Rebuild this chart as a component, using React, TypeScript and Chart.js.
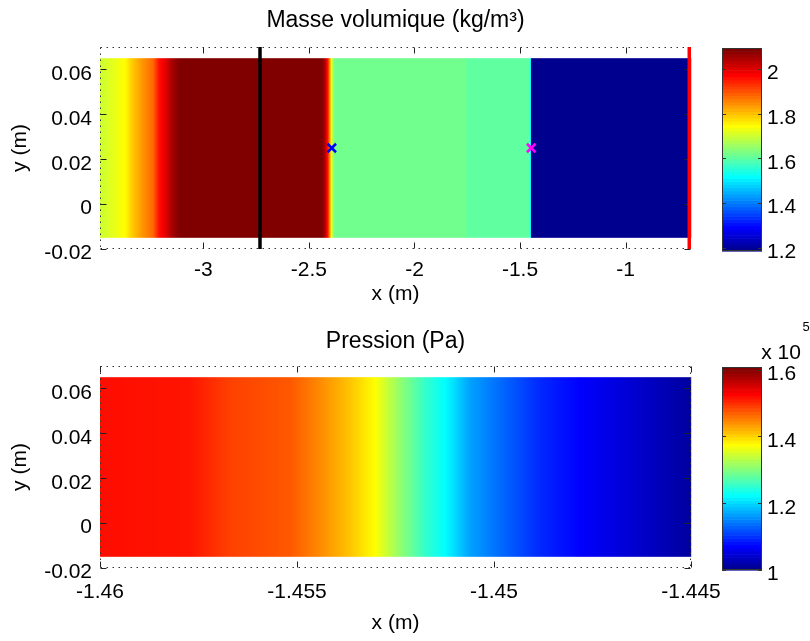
import React, { useEffect, useRef } from 'react';
import { Chart, registerables } from 'chart.js';

Chart.register(...registerables);

// ---------------- data ----------------
// density profile along x (kg/m³)
const densityX = [-3.49, -3.45, -3.4, -3.37, -3.34, -3.29, -3.24, -3.21, -3.18, -3.15, -3.11, -2.44, -2.425, -2.41, -2.4, -2.39, -2.38, -2.37, -1.76, -1.75, -1.452, -1.449, -1.446, -0.69];
const densityValues = [1.7, 1.715, 1.735, 1.75, 1.79, 1.84, 1.88, 1.96, 2.0, 2.05, 2.09, 2.09, 2.05, 1.95, 1.82, 1.7, 1.63, 1.62, 1.62, 1.605, 1.605, 1.45, 1.19, 1.19];

// pressure profile along x (x 1e5 Pa)
const pressureX = [-1.46, -1.45772, -1.4567, -1.45518, -1.45442, -1.45365, -1.45302, -1.45239, -1.45175, -1.45124, -1.45061, -1.44985, -1.44883, -1.44782, -1.44629, -1.445];
const pressureValues = [1.52, 1.515, 1.489, 1.475, 1.445, 1.41, 1.375, 1.31, 1.255, 1.223, 1.168, 1.135, 1.095, 1.071, 1.04, 1.014];

const fluidY = [-0.015, 0.065];
const topXRange = [-3.49, -0.69];
const bottomXRange = [-1.46, -1.445];
const yRange = [-0.02, 0.07];

const topXTicks = [-3, -2.5, -2, -1.5, -1];
const topXTickLabels = ['-3', '-2.5', '-2', '-1.5', '-1'];
const bottomXTicks = [-1.46, -1.455, -1.45, -1.445];
const bottomXTickLabels = ['-1.46', '-1.455', '-1.45', '-1.445'];
const yTicks = [-0.02, 0, 0.02, 0.04, 0.06];
const yTickLabels = ['-0.02', '0', '0.02', '0.04', '0.06'];

const densityRange = [1.185, 2.095];
const densityBarTicks = [1.2, 1.4, 1.6, 1.8, 2];
const densityBarLabels = ['1.2', '1.4', '1.6', '1.8', '2'];
const pressureRange = [1.0, 1.608];
const pressureBarTicks = [1, 1.2, 1.4, 1.6];
const pressureBarLabels = ['1', '1.2', '1.4', '1.6'];
const pressureExponent = ['x 10', '5'];

const blackLineX = -2.732;
const redLineX = -0.697;
const shockMarker = [-2.392, 0.025];
const contactMarker = [-1.447, 0.025];

const topTitle = 'Masse volumique (kg/m³)';
const bottomTitle = 'Pression (Pa)';
const xTitle = 'x (m)';
const yTitle = 'y (m)';

// ---------------- helpers ----------------
const FONT_FAMILY = '"Liberation Sans", Arial, Helvetica, sans-serif';
const FS = 21;
const font = { family: FONT_FAMILY, size: FS };
const titleFont = { family: FONT_FAMILY, size: 23 };

function jet(m: number): number[][] {
  const n = Math.ceil(m / 4);
  const u: number[] = [];
  for (let i = 1; i <= n; i++) u.push(i / n);
  for (let i = 0; i < n - 1; i++) u.push(1);
  for (let i = n; i >= 1; i--) u.push(i / n);
  const gOff = Math.ceil(n / 2) - (m % 4 === 1 ? 1 : 0);
  const cols = Array.from({ length: m }, () => [0, 0, 0]);
  for (let j = 0; j < u.length; j++) {
    const g = gOff + j + 1;
    const r = g + n;
    const b = g - n;
    if (r >= 1 && r <= m) cols[r - 1][0] = u[j];
    if (g >= 1 && g <= m) cols[g - 1][1] = u[j];
    if (b >= 1 && b <= m) cols[b - 1][2] = u[j];
  }
  return cols;
}
const JET = jet(64);
const rgb = (c: number[]) => `rgb(${Math.round(c[0] * 255)},${Math.round(c[1] * 255)},${Math.round(c[2] * 255)})`;

function smoothColor(v: number, range: number[]) {
  let f = ((v - range[0]) / (range[1] - range[0])) * 64 - 0.5;
  if (f < 0) f = 0;
  if (f > 63) f = 63;
  const i = Math.min(62, Math.floor(f));
  const a = f - i;
  const c0 = JET[i];
  const c1 = JET[i + 1];
  return rgb([c0[0] + (c1[0] - c0[0]) * a, c0[1] + (c1[1] - c0[1]) * a, c0[2] + (c1[2] - c0[2]) * a]);
}

function interp(xs: number[], vs: number[], x: number) {
  if (x <= xs[0]) return vs[0];
  if (x >= xs[xs.length - 1]) return vs[vs.length - 1];
  for (let i = 0; i < xs.length - 1; i++) {
    if (x >= xs[i] && x <= xs[i + 1]) {
      const f = (x - xs[i]) / (xs[i + 1] - xs[i]);
      return vs[i] + (vs[i + 1] - vs[i]) * f;
    }
  }
  return vs[vs.length - 1];
}

function makeFieldPlugin(xs: number[], vs: number[], range: number[], xt: number[], yt: number[]) {
  return {
    id: 'fieldAndBox',
    beforeDatasetsDraw(chart: any) {
      const { ctx, chartArea, scales } = chart;
      const sx = scales.x;
      const sy = scales.y;
      const left = Math.max(chartArea.left, sx.getPixelForValue(xs[0]));
      const right = Math.min(chartArea.right, sx.getPixelForValue(xs[xs.length - 1]));
      const top = sy.getPixelForValue(fluidY[1]);
      const bottom = sy.getPixelForValue(fluidY[0]);
      ctx.save();
      for (let px = Math.floor(left); px < Math.ceil(right); px++) {
        const v = interp(xs, vs, sx.getValueForPixel(px + 0.5));
        ctx.fillStyle = smoothColor(v, range);
        ctx.fillRect(px, top, 1.2, bottom - top);
      }
      const L = chartArea.left + 0.5;
      const R = chartArea.right - 0.5;
      const T = chartArea.top + 0.5;
      const B = chartArea.bottom - 0.5;
      ctx.strokeStyle = '#333';
      ctx.lineWidth = 1;
      ctx.setLineDash([1.5, 4.5]);
      ctx.beginPath();
      ctx.moveTo(L, T); ctx.lineTo(R, T);
      ctx.moveTo(L, B); ctx.lineTo(R, B);
      ctx.moveTo(L, T); ctx.lineTo(L, B);
      ctx.moveTo(R, T); ctx.lineTo(R, B);
      ctx.stroke();
      ctx.setLineDash([]);
      ctx.strokeStyle = '#222';
      ctx.beginPath();
      xt.forEach((v) => {
        const p = Math.round(sx.getPixelForValue(v)) + 0.5;
        ctx.moveTo(p, B); ctx.lineTo(p, B - 6);
        ctx.moveTo(p, T); ctx.lineTo(p, T + 6);
      });
      yt.forEach((v) => {
        const p = Math.round(sy.getPixelForValue(v)) + 0.5;
        ctx.moveTo(L, p); ctx.lineTo(L + 6, p);
        ctx.moveTo(R, p); ctx.lineTo(R - 6, p);
      });
      ctx.stroke();
      ctx.restore();
    },
  };
}

function makeColorbarPlugin(range: number[], ticks: number[], exponent: string[] | null) {
  return {
    id: 'colorbar',
    beforeDatasetsDraw(chart: any) {
      const { ctx, chartArea, scales } = chart;
      const sy = scales.y;
      const span = range[1] - range[0];
      ctx.save();
      for (let k = 0; k < 64; k++) {
        const y0 = sy.getPixelForValue(range[0] + (k * span) / 64);
        const y1 = sy.getPixelForValue(range[0] + ((k + 1) * span) / 64);
        ctx.fillStyle = rgb(JET[k]);
        ctx.fillRect(chartArea.left, y1, chartArea.right - chartArea.left, y0 - y1 + 0.6);
      }
      ctx.strokeStyle = '#333';
      ctx.lineWidth = 1;
      ctx.strokeRect(chartArea.left + 0.5, chartArea.top + 0.5, chartArea.right - chartArea.left - 1, chartArea.bottom - chartArea.top - 1);
      ctx.beginPath();
      ticks.forEach((v) => {
        const p = Math.round(sy.getPixelForValue(v)) + 0.5;
        ctx.moveTo(chartArea.left, p); ctx.lineTo(chartArea.left + 4, p);
        ctx.moveTo(chartArea.right, p); ctx.lineTo(chartArea.right - 4, p);
      });
      ctx.stroke();
      if (exponent) {
        ctx.fillStyle = '#000';
        ctx.textAlign = 'center';
        ctx.textBaseline = 'middle';
        ctx.font = `${FS}px ${FONT_FAMILY}`;
        ctx.fillText(exponent[0], chartArea.left + 59, chartArea.top - 14);
        ctx.font = `13px ${FONT_FAMILY}`;
        ctx.fillText(exponent[1], chartArea.left + 84, chartArea.top - 40);
      }
      ctx.restore();
    },
  };
}

function mainConfig(opts: {
  xRange: number[]; xTicks: number[]; xLabels: string[]; title: string;
  xs: number[]; vs: number[]; range: number[]; extras: any[];
  tickPad: number; xTitlePad: number; titlePad: number;
}) {
  return {
    type: 'scatter',
    data: { datasets: opts.extras },
    options: {
      responsive: false,
      animation: false,
      layout: { padding: { left: 0, right: 44, top: 0, bottom: 0 } },
      plugins: { legend: { display: false }, tooltip: { enabled: false }, title: { display: false } },
      scales: {
        x: {
          type: 'linear', position: 'bottom', min: opts.xRange[0], max: opts.xRange[1],
          afterBuildTicks: (s: any) => { s.ticks = opts.xTicks.map((v) => ({ value: v })); },
          afterFit: (s: any) => { s.height = 69; s.paddingLeft = 0; s.paddingRight = 0; },
          ticks: {
            callback: (_v: any, i: number) => opts.xLabels[i], font, color: '#000',
            padding: opts.tickPad, maxRotation: 0, minRotation: 0, autoSkip: false,
          },
          grid: { display: false, drawTicks: false },
          border: { display: false },
          title: { display: true, text: xTitle, font, color: '#000', padding: { top: 0, bottom: opts.xTitlePad } },
        },
        x2: {
          type: 'linear', position: 'top', min: opts.xRange[0], max: opts.xRange[1],
          afterFit: (s: any) => { s.height = 47; s.paddingLeft = 0; s.paddingRight = 0; },
          ticks: { display: false },
          grid: { display: false, drawTicks: false },
          border: { display: false },
          title: { display: true, text: opts.title, font: titleFont, color: '#000', padding: { top: opts.titlePad, bottom: 0 } },
        },
        y: {
          type: 'linear', position: 'left', min: yRange[0], max: yRange[1],
          afterBuildTicks: (s: any) => { s.ticks = yTicks.map((v) => ({ value: v })); },
          afterFit: (s: any) => { s.width = 100; s.paddingTop = 0; s.paddingBottom = 0; },
          ticks: { callback: (_v: any, i: number) => yTickLabels[i], font, color: '#000', padding: 8, labelOffset: 4.5, autoSkip: false },
          grid: { display: false, drawTicks: false },
          border: { display: false },
          title: { display: true, text: yTitle, font, color: '#000', padding: { top: 8, bottom: 0 } },
        },
      },
    },
    plugins: [makeFieldPlugin(opts.xs, opts.vs, opts.range, opts.xTicks, yTicks)],
  };
}

function barConfig(range: number[], ticks: number[], labels: string[], exponent: string[] | null) {
  return {
    type: 'scatter',
    data: { datasets: [] },
    options: {
      responsive: false,
      animation: false,
      layout: { padding: { left: 7, right: 0, top: 48, bottom: 67 } },
      plugins: { legend: { display: false }, tooltip: { enabled: false } },
      scales: {
        x: { display: false, min: 0, max: 1 },
        y: {
          type: 'linear', position: 'right', min: range[0], max: range[1],
          afterBuildTicks: (s: any) => { s.ticks = ticks.map((v) => ({ value: v })); },
          afterFit: (s: any) => { s.width = 48; s.paddingTop = 0; s.paddingBottom = 0; },
          ticks: { callback: (_v: any, i: number) => labels[i], font, color: '#000', padding: 5, labelOffset: 4.5, autoSkip: false },
          grid: { display: false, drawTicks: false },
          border: { display: false },
        },
      },
    },
    plugins: [makeColorbarPlugin(range, ticks, exponent)],
  };
}

export default function App() {
  const topRef = useRef<HTMLCanvasElement>(null);
  const topBarRef = useRef<HTMLCanvasElement>(null);
  const botRef = useRef<HTMLCanvasElement>(null);
  const botBarRef = useRef<HTMLCanvasElement>(null);

  useEffect(() => {
    const charts: Chart[] = [];
    const topExtras = [
      {
        type: 'line', data: [{ x: blackLineX, y: yRange[0] }, { x: blackLineX, y: yRange[1] }],
        borderColor: '#000', borderWidth: 3.5, pointRadius: 0, showLine: true,
      },
      {
        type: 'line', data: [{ x: redLineX, y: yRange[0] }, { x: redLineX, y: yRange[1] }],
        borderColor: '#ff0000', borderWidth: 4, pointRadius: 0, showLine: true,
      },
      {
        data: [{ x: shockMarker[0], y: shockMarker[1] }], pointStyle: 'crossRot', pointRadius: 6,
        borderColor: '#0000ff', backgroundColor: '#0000ff', borderWidth: 2.5,
      },
      {
        data: [{ x: contactMarker[0], y: contactMarker[1] }], pointStyle: 'crossRot', pointRadius: 6,
        borderColor: '#ff00ff', backgroundColor: '#ff00ff', borderWidth: 2.5,
      },
    ];
    charts.push(new Chart(topRef.current as any, mainConfig({
      xRange: topXRange, xTicks: topXTicks, xLabels: topXTickLabels, title: topTitle,
      xs: densityX, vs: densityValues, range: densityRange, extras: topExtras,
      tickPad: 9, xTitlePad: 11, titlePad: 7,
    }) as any));
    charts.push(new Chart(botRef.current as any, mainConfig({
      xRange: bottomXRange, xTicks: bottomXTicks, xLabels: bottomXTickLabels, title: bottomTitle,
      xs: pressureX, vs: pressureValues, range: pressureRange, extras: [],
      tickPad: 12, xTitlePad: 1, titlePad: 9,
    }) as any));
    charts.push(new Chart(topBarRef.current as any, barConfig(densityRange, densityBarTicks, densityBarLabels, null) as any));
    charts.push(new Chart(botBarRef.current as any, barConfig(pressureRange, pressureBarTicks, pressureBarLabels, pressureExponent) as any));
    return () => charts.forEach((c) => c.destroy());
  }, []);

  return (
    <div style={{ position: 'absolute', left: 0, top: 0, width: 810, height: 641, background: '#fff', overflow: 'hidden' }}>
      <canvas ref={topRef} width={735} height={318} style={{ position: 'absolute', left: 0, top: 0 }} />
      <canvas ref={botRef} width={735} height={318} style={{ position: 'absolute', left: 0, top: 319 }} />
      <canvas ref={topBarRef} width={95} height={318} style={{ position: 'absolute', left: 715, top: 0 }} />
      <canvas ref={botBarRef} width={95} height={318} style={{ position: 'absolute', left: 715, top: 319 }} />
    </div>
  );
}
